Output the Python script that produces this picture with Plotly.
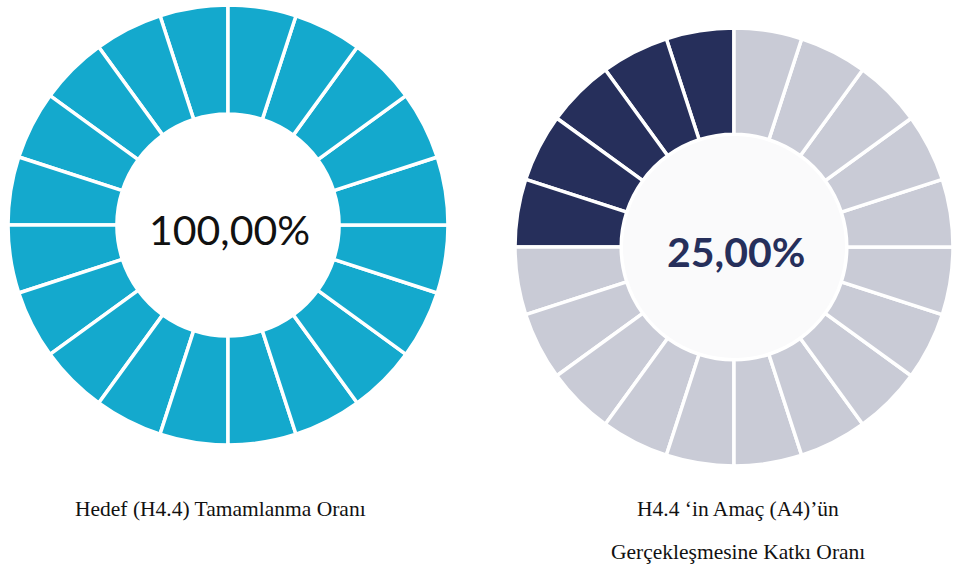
import plotly.graph_objects as go

W, H = 953, 566

# Each ring is split into 20 equal segments
segments = [1] * 20

left_value = "100,00%"
left_filled = 20
right_value = "25,00%"
right_filled = 5

left_title = "Hedef (H4.4) Tamamlanma Oranı"
right_title_lines = ["H4.4 ‘in Amaç (A4)’ün", "Gerçekleşmesine Katkı Oranı"]

CYAN = "#14a9cd"
NAVY = "#262f5b"
GREY = "#c9cbd6"


def px_x(x):
    return x / W


def px_y(y):
    return 1 - y / H


def ring_colors(filled, on, off):
    return [on if i < filled else off for i in range(len(segments))]


fig = go.Figure()

# Left ring: centre (228, 225), radius 220
lc, lr = (228, 225), 220
fig.add_trace(go.Pie(
    values=segments,
    hole=0.505,
    sort=False,
    direction="counterclockwise",
    rotation=-18,
    marker=dict(colors=ring_colors(left_filled, CYAN, GREY),
                line=dict(color="white", width=3.5)),
    textinfo="none",
    hoverinfo="skip",
    showlegend=False,
    domain=dict(x=[px_x(lc[0] - lr), px_x(lc[0] + lr)],
                y=[px_y(lc[1] + lr), px_y(lc[1] - lr)]),
))

# Right ring: centre (734, 247), radius 219; filled part runs
# counter-clockwise from 12 o'clock
rc, rr = (734, 247), 219
fig.add_trace(go.Pie(
    values=segments,
    hole=0.515,
    sort=False,
    direction="counterclockwise",
    rotation=-18,
    marker=dict(colors=ring_colors(right_filled, NAVY, GREY),
                line=dict(color="white", width=3.5)),
    textinfo="none",
    hoverinfo="skip",
    showlegend=False,
    domain=dict(x=[px_x(rc[0] - rr), min(1.0, px_x(rc[0] + rr))],
                y=[px_y(rc[1] + rr), px_y(rc[1] - rr)]),
))

# faint fill inside the right ring
inner = 113
fig.add_shape(type="circle", xref="paper", yref="paper", layer="below",
              x0=px_x(rc[0] - inner), x1=px_x(rc[0] + inner),
              y0=px_y(rc[1] + inner), y1=px_y(rc[1] - inner),
              fillcolor="#fafafb", line=dict(width=0))

annotations = [
    dict(text=left_value, x=px_x(229), y=px_y(229),
         font=dict(family="Lato", size=41, color="#111111")),
    dict(text=f"<b>{right_value}</b>", x=px_x(736), y=px_y(251),
         font=dict(family="Lato", size=41, color=NAVY)),
    dict(text=left_title, x=px_x(220), y=px_y(509),
         font=dict(family="Liberation Serif", size=21.5, color="#111111")),
    dict(text=right_title_lines[0], x=px_x(738), y=px_y(509),
         font=dict(family="Liberation Serif", size=21.5, color="#111111")),
    dict(text=right_title_lines[1], x=px_x(738), y=px_y(552),
         font=dict(family="Liberation Serif", size=21.5, color="#111111")),
]
for a in annotations:
    fig.add_annotation(xref="paper", yref="paper", showarrow=False,
                       xanchor="center", yanchor="middle", **a)

fig.update_layout(width=W, height=H, margin=dict(l=0, r=0, t=0, b=0),
                  paper_bgcolor="white", plot_bgcolor="white")

fig.write_html("out.html")
